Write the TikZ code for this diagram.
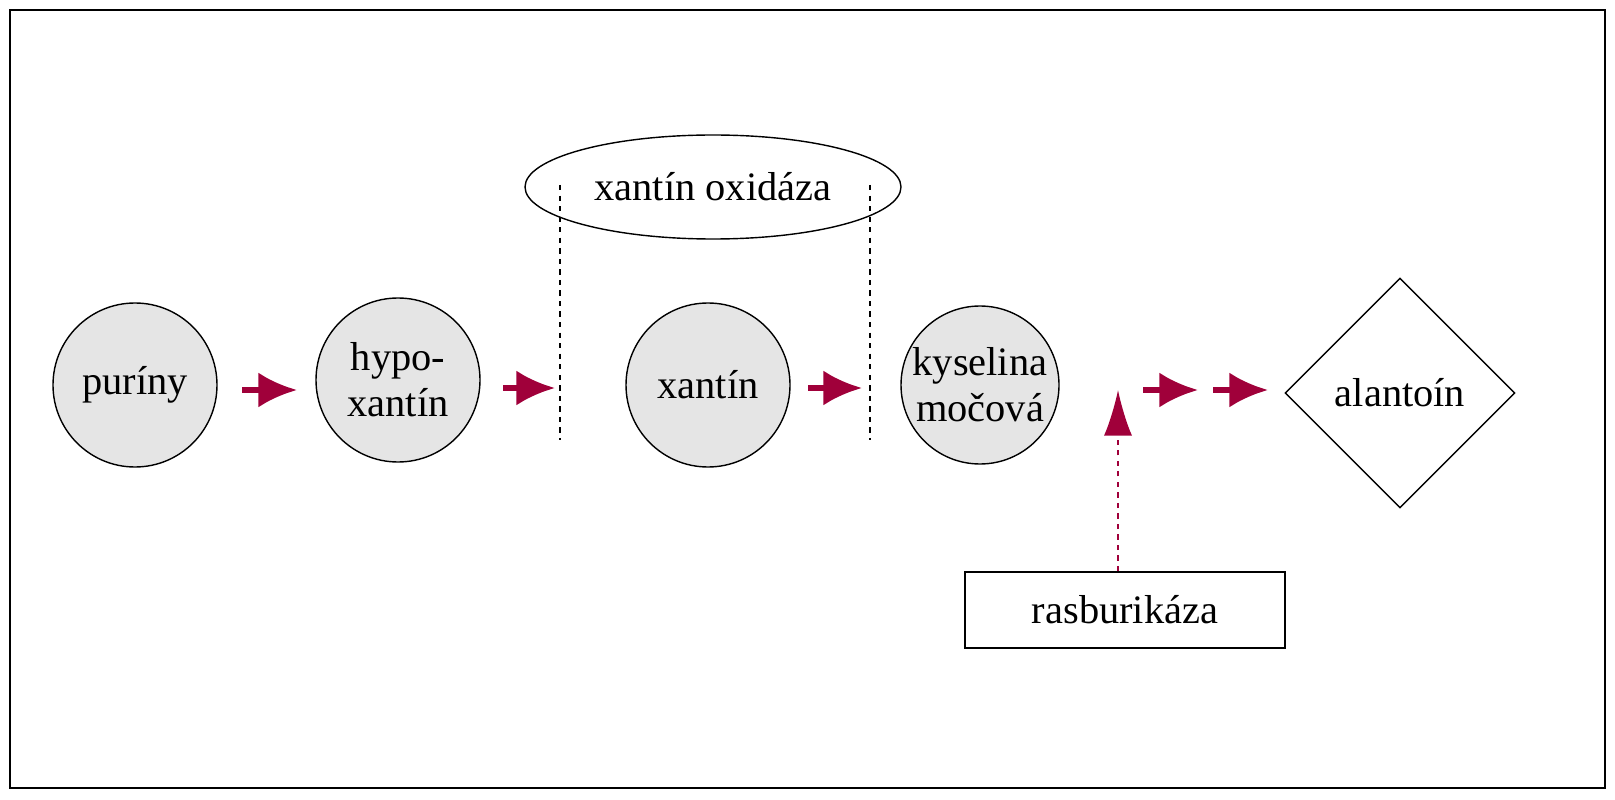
\documentclass[tikz,border=0pt]{standalone}
\usepackage{fontspec}
\setmainfont{Liberation Serif}
\usetikzlibrary{shapes.geometric,arrows.meta}
\definecolor{arr}{HTML}{A0003A}
\begin{document}
\begin{tikzpicture}[x=0.02cm,y=-0.02cm,
 every node/.style={font=\fontsize{23}{26}\selectfont},
 mol/.style={circle,draw,fill=gray!20,line width=0.8pt,minimum size=164*0.02cm,inner sep=0pt,align=center},
 rarr/.style={draw=arr,line width=3pt,-{Latex[length=22pt,width=20pt]}},
 vline/.style={dashed,line width=0.7pt}]
\useasboundingbox (0,0) rectangle (1615,800);
\draw[line width=0.8pt] (10,10) rectangle (1605,788);
\node[mol] (pur) at (135,385) {puríny};
\node[mol] (hyp) at (398,380) {hypo-\\xantín};
\node[mol] (xan) at (708,385) {xantín};
\node[mol,minimum size=158*0.02cm] (kys) at (980,385) {kyselina\\močová};
\node[diamond,draw,line width=0.8pt,minimum size=230*0.02cm,inner sep=0pt] (ala) at (1400,393) {alantoín};
\node[ellipse,draw,line width=0.8pt,minimum width=376*0.02cm,minimum height=104*0.02cm] (xo) at (713,187) {xantín oxidáza};
\node[draw,line width=0.8pt,minimum width=320*0.02cm,minimum height=76*0.02cm] (ras) at (1125,610) {rasburikáza};
\coordinate (l1) at (560,185); \coordinate (l1b) at (560,440);
\coordinate (l2) at (870,185); \coordinate (l2b) at (870,440);
\draw[vline] (l1) -- (l1b);
\draw[vline] (l2) -- (l2b);
\coordinate (a1) at (242,390); \coordinate (a1e) at (297,390);
\coordinate (a2) at (503,388); \coordinate (a2e) at (555,388);
\coordinate (a3) at (808,388); \coordinate (a3e) at (862,388);
\coordinate (a4) at (1143,390); \coordinate (a4e) at (1198,390);
\coordinate (a5) at (1213,390); \coordinate (a5e) at (1268,390);
\draw[rarr] (a1) -- (a1e);
\draw[rarr] (a2) -- (a2e);
\draw[rarr] (a3) -- (a3e);
\draw[rarr] (a4) -- (a4e);
\draw[rarr] (a5) -- (a5e);
\coordinate (up) at (1118,390);
\draw[draw=arr,dashed,line width=1pt,-{Latex[length=26pt,width=16pt]}] (ras.north -| up) -- (up);
\end{tikzpicture}
\end{document}
